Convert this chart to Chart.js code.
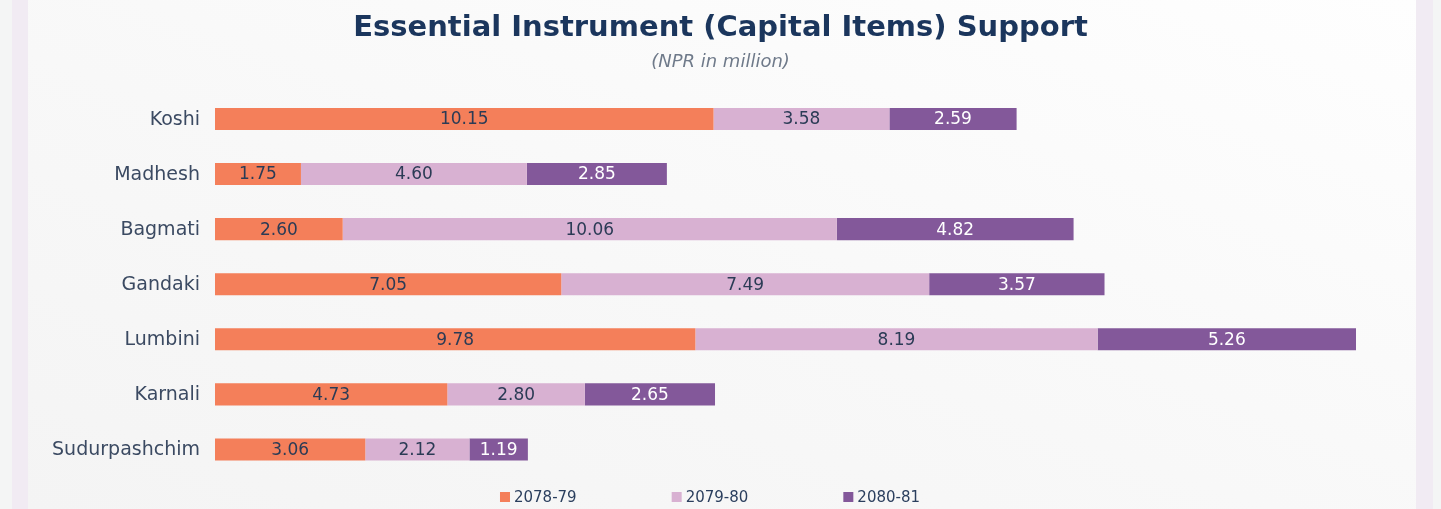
<!DOCTYPE html>
<html>
<head>
<meta charset="utf-8">
<script src="https://cdn.jsdelivr.net/npm/chart.js@4.4.1/dist/chart.umd.min.js"></script>
<style>
  html, body { margin: 0; padding: 0; width: 1441px; height: 509px; overflow: hidden; background: #f4f5f5; }
  #frame { position: absolute; left: 12px; top: 0; width: 1421px; height: 509px; background: #f1ebf3; }
  #card { position: absolute; left: 28px; top: 0; width: 1388px; height: 509px;
          background: linear-gradient(to top right, #f4f4f4 0%, #f8f8f8 45%, #fefefe 100%); }
  #chart { position: absolute; left: 0; top: 0; }
</style>
</head>
<body>
<div id="frame"></div>
<div id="card"></div>
<canvas id="chart" width="1441" height="509"></canvas>
<script>
const categories = ['Koshi', 'Madhesh', 'Bagmati', 'Gandaki', 'Lumbini', 'Karnali', 'Sudurpashchim'];
const seriesNames = ['2078-79', '2079-80', '2080-81'];
const fy7879 = [10.15, 1.75, 2.60, 7.05, 9.78, 4.73, 3.06];
const fy7980 = [3.58, 4.60, 10.06, 7.49, 8.19, 2.80, 2.12];
const fy8081 = [2.59, 2.85, 4.82, 3.57, 5.26, 2.65, 1.19];

const colors = ['#f47f5a', '#d8b1d2', '#83589a'];
const labelColors = ['#2b3b55', '#2b3b55', '#ffffff'];
const FONT = "'DejaVu Sans', sans-serif";

const totals = categories.map((_, i) => fy7879[i] + fy7980[i] + fy8081[i]);
const xMax = Math.max(...totals);

const valueLabels = {
  id: 'valueLabels',
  afterDatasetsDraw(chart) {
    const ctx = chart.ctx;
    ctx.save();
    ctx.font = '17px ' + FONT;
    ctx.textAlign = 'center';
    ctx.textBaseline = 'middle';
    chart.data.datasets.forEach((ds, di) => {
      const meta = chart.getDatasetMeta(di);
      meta.data.forEach((el, i) => {
        const p = el.getProps(['x', 'y', 'base'], true);
        ctx.fillStyle = labelColors[di];
        ctx.fillText(ds.data[i].toFixed(2), (p.x + p.base) / 2, p.y + 1);
      });
    });
    ctx.restore();
  }
};

const customLegend = {
  id: 'customLegend',
  afterDraw(chart) {
    const ctx = chart.ctx;
    ctx.save();
    ctx.font = '15px ' + FONT;
    ctx.textBaseline = 'middle';
    const box = 10, gapText = 4, gap = 95;
    const widths = chart.data.datasets.map(ds => box + gapText + ctx.measureText(ds.label).width);
    const total = widths.reduce((a, b) => a + b, 0) + gap * (widths.length - 1);
    let x = 710 - total / 2;
    const y = 497;
    chart.data.datasets.forEach((ds, i) => {
      ctx.fillStyle = ds.backgroundColor;
      ctx.fillRect(x, y - box / 2, box, box);
      ctx.fillStyle = '#2b3f5e';
      ctx.textAlign = 'left';
      ctx.fillText(ds.label, x + box + gapText, y + 1);
      x += widths[i] + gap;
    });
    ctx.restore();
  }
};

new Chart(document.getElementById('chart'), {
  type: 'bar',
  data: {
    labels: categories,
    datasets: [
      { label: seriesNames[0], data: fy7879, backgroundColor: colors[0] },
      { label: seriesNames[1], data: fy7980, backgroundColor: colors[1] },
      { label: seriesNames[2], data: fy8081, backgroundColor: colors[2] }
    ]
  },
  options: {
    indexAxis: 'y',
    responsive: false,
    animation: false,
    devicePixelRatio: 1,
    layout: { padding: { left: 0, right: 0, top: 0, bottom: 32 } },
    datasets: { bar: { barPercentage: 0.4, categoryPercentage: 1.0, borderWidth: 0 } },
    scales: {
      x: { stacked: true, display: false, min: 0, max: xMax },
      y: {
        stacked: true,
        grid: { display: false, drawTicks: false },
        border: { display: false },
        ticks: { color: '#3b4a62', font: { family: FONT, size: 19 }, padding: 15, labelOffset: 1 },
        afterFit(scale) { scale.width = 215; }
      },
      yRight: {
        type: 'category',
        position: 'right',
        grid: { display: false, drawTicks: false },
        border: { display: false },
        ticks: { display: false },
        afterFit(scale) { scale.width = 85; }
      }
    },
    plugins: {
      legend: { display: false },
      tooltip: { enabled: false },
      title: {
        display: true,
        text: 'Essential Instrument (Capital Items) Support',
        color: '#1b365d',
        font: { family: FONT, size: 29, weight: '700' },
        padding: { top: 11, bottom: 4 }
      },
      subtitle: {
        display: true,
        text: '(NPR in million)',
        color: '#6f7a8a',
        font: { family: FONT, size: 18, style: 'italic' },
        padding: { top: 2, bottom: 18 }
      }
    }
  },
  plugins: [valueLabels, customLegend]
});
</script>
</body>
</html>
